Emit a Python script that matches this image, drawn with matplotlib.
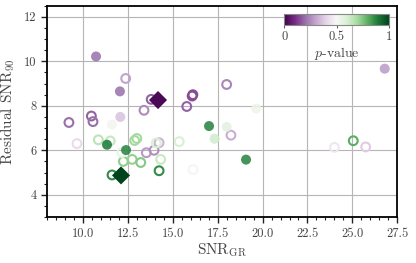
import matplotlib
matplotlib.use("Agg")
import matplotlib.pyplot as plt
import numpy as np
from matplotlib.ticker import MultipleLocator, FormatStrFormatter

plt.rcParams['font.family'] = ['cmr10', 'DejaVu Serif']
plt.rcParams['mathtext.fontset'] = 'cm'
plt.rcParams['axes.formatter.use_mathtext'] = True

# filled circles
filled_x = [10.73, 12.06, 12.08, 11.62, 17.02, 26.80, 19.65, 18.00, 17.33, 19.08, 11.34, 12.40]
filled_y = [10.22, 8.65, 7.50, 7.16, 7.09, 9.67, 7.88, 7.05, 6.52, 5.58, 6.25, 6.01]
filled_p = [0.20, 0.20, 0.36, 0.52, 0.88, 0.28, 0.53, 0.57, 0.62, 0.88, 0.90, 0.88]

# open circles
open_x = [12.38, 13.80, 13.40, 15.78, 16.08, 16.12, 10.47, 10.56, 9.22, 18.00, 18.24,
          25.05, 24.00, 25.74, 9.67, 10.86, 11.52, 12.88, 13.00, 12.25, 12.74, 13.22,
          13.53, 13.96, 14.24, 14.08, 14.33, 14.24, 15.36, 16.13, 11.62, 12.17]
open_y = [9.23, 8.29, 7.80, 7.97, 8.44, 8.50, 7.54, 7.29, 7.25, 8.96, 6.68,
          6.43, 6.13, 6.15, 6.30, 6.47, 6.42, 6.44, 6.53, 5.50, 5.59, 5.45,
          5.89, 6.00, 6.34, 6.33, 5.59, 5.08, 6.39, 5.13, 4.89, 5.90]
open_p = [0.30, 0.18, 0.25, 0.18, 0.15, 0.15, 0.18, 0.20, 0.20, 0.24, 0.32,
          0.80, 0.45, 0.38, 0.42, 0.66, 0.64, 0.70, 0.70, 0.73, 0.72, 0.74,
          0.28, 0.26, 0.33, 0.60, 0.63, 0.86, 0.60, 0.49, 0.86, 0.55]

# highlighted diamonds
dia_x = [14.18, 12.12]
dia_y = [8.26, 4.87]
dia_p = [0.02, 1.0]

cmap = plt.get_cmap('PRGn')
norm = matplotlib.colors.Normalize(0, 1)

fig = plt.figure(figsize=(4.16, 2.63), dpi=100)
ax = fig.add_axes([0.113, 0.175, 0.842, 0.803])

ax.set_xlim(8, 27.5)
ax.set_ylim(3, 12.5)
ax.grid(True, color='#b5b5b5', lw=0.8, zorder=0)
ax.set_axisbelow(True)

ax.scatter(open_x, open_y, s=40, facecolors='none', edgecolors=cmap(norm(open_p)),
           linewidths=1.5, zorder=3)
sc = ax.scatter(filled_x, filled_y, s=52, c=filled_p, cmap=cmap, norm=norm,
                edgecolors='none', alpha=0.85, zorder=3)
ax.scatter(dia_x, dia_y, s=85, marker='D', c=dia_p, cmap=cmap, norm=norm,
           edgecolors='none', zorder=4)

ax.xaxis.set_major_locator(MultipleLocator(2.5))
ax.xaxis.set_minor_locator(MultipleLocator(0.5))
ax.yaxis.set_major_locator(MultipleLocator(2))
ax.yaxis.set_minor_locator(MultipleLocator(0.5))
ax.xaxis.set_major_formatter(FormatStrFormatter('%.1f'))
ax.yaxis.set_major_formatter(FormatStrFormatter('%d'))
ax.tick_params(which='major', direction='out', length=4, width=1, labelsize=9, colors='#222222', labelcolor='#444444')
ax.tick_params(which='minor', direction='out', length=2.5, width=0.8, colors='#222222')
for s in ax.spines.values():
    s.set_linewidth(1.3)

ax.set_xlabel(r'SNR$_{\rm GR}$', fontsize=11, color='#444444', labelpad=1)
ax.set_ylabel(r'Residual SNR$_{90}$', fontsize=11, color='#444444', labelpad=5)

cax = fig.add_axes([0.683, 0.905, 0.252, 0.04])
cb = fig.colorbar(matplotlib.cm.ScalarMappable(norm=norm, cmap=cmap), cax=cax,
                  orientation='horizontal', ticks=[0, 0.5, 1])
cb.ax.set_xticklabels(['0', '0.5', '1'])
cb.ax.tick_params(labelsize=9, length=2.5, labelcolor='#444444', color='#666666', pad=2)
cb.outline.set_linewidth(0.8)
cb.outline.set_edgecolor('#888888')
cb.set_label(r'$p$-value', fontsize=10, color='#444444', labelpad=1)

fig.savefig('out.png', dpi=100)
